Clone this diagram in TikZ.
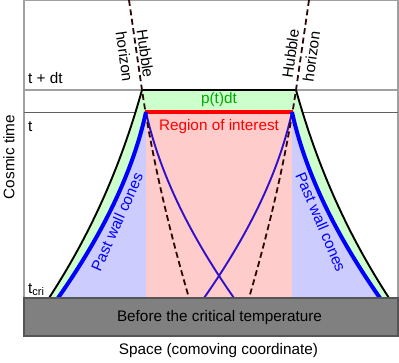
\documentclass[tikz,border=0pt]{standalone}
\usepackage{fontspec}
\setmainfont{Liberation Sans}
\definecolor{greenfill}{HTML}{CCFFCC}
\definecolor{lavfill}{HTML}{CCCCFF}
\definecolor{pinkfill}{HTML}{FFCCCC}
\definecolor{ptgreen}{HTML}{00AA00}
\definecolor{purpleline}{HTML}{3010C8}
\definecolor{dashcol}{HTML}{2A0808}
\definecolor{lightgrid}{HTML}{A0A0A0}
\definecolor{darkgrid}{HTML}{606060}
\definecolor{boxgray}{HTML}{808080}
\definecolor{boxedge}{HTML}{555555}
\begin{document}
\begin{tikzpicture}[x=1pt,y=-1pt,
  lbl/.style={font=\fontsize{15.3}{21}\selectfont, inner sep=0pt},
  outline/.style={line width=1.9pt, black, line join=round},
  wallcone/.style={line width=4pt, blue},
  thincone/.style={line width=1.9pt, purpleline},
  horizon/.style={line width=1.8pt, dashcol, dash pattern=on 6pt off 3.5pt}]
\useasboundingbox (0,0) rectangle (399,362);

% frame and time lines
\draw[lightgrid, line width=1.2pt] (24,0) -- (398,0) -- (398,336);
\draw[lightgrid, line width=1.2pt] (24,0) -- (24,336);
\draw[lightgrid, line width=1.2pt] (24,90) -- (398,90);
\draw[darkgrid, line width=1pt] (24,112) -- (398,112);

% fills
\fill[greenfill] (142,90) .. controls (122.4,160) and (94.5,228) .. (49,298)
  -- (389,298) .. controls (343.5,228) and (315.6,160) .. (296,90) -- cycle;
\fill[lavfill] (146,112) .. controls (132.4,174) and (101.4,236) .. (58,298)
  -- (146,298) -- cycle;
\fill[lavfill] (292,112) .. controls (305.6,174) and (336.6,236) .. (380,298)
  -- (292,298) -- cycle;
\fill[pinkfill] (146,112) rectangle (292,298);

% red bar
\draw[red, line width=4.2pt] (145,112) -- (293,112);

% outer outline
\draw[outline] (49,298) .. controls (94.5,228) and (122.4,160) .. (142,90)
  -- (296,90) .. controls (315.6,160) and (343.5,228) .. (389,298);

% thin cones
\draw[thincone] (146,112) .. controls (159.6,174) and (190.6,236) .. (234,298);
\draw[thincone] (292,112) .. controls (278.4,174) and (247.4,236) .. (204,298);

% Hubble horizons
\draw[horizon] (129,0) -- (142,90) .. controls (152.5,160) and (168.7,228) .. (189,298);
\draw[horizon] (309,0) -- (296,90) .. controls (285.5,160) and (269.3,228) .. (249,298);

% wall cones
\draw[wallcone] (146,112) .. controls (132.4,174) and (101.4,236) .. (58,298);
\draw[wallcone] (292,112) .. controls (305.6,174) and (336.6,236) .. (380,298);

% before critical temperature
\draw[boxedge, fill=boxgray, line width=1.2pt] (24,298) rectangle (398,336);

% labels
\node[lbl, anchor=base west] (tdt) at (28,83) {t + dt};
\node[lbl, anchor=base west] (tt) at (28,131) {t};
\node[lbl, anchor=base west] (tcri) at (28,293) {t\raisebox{-0.35ex}{\fontsize{11}{13}\selectfont cri}};
\node[lbl, rotate=90] (ctime) at (9,157) {Cosmic time};
\node[lbl] (space) at (218.5,351) {Space (comoving coordinate)};
\node[lbl] (before) at (219.5,318) {Before the critical temperature};
\node[lbl, text=ptgreen] (ptdt) at (219,100) {p(t)dt};
\node[lbl, text=red] (roi) at (219,127) {Region of interest};
\node[lbl, rotate=-82, align=center] (hleft) at (135,55) {Hubble\\horizon};
\node[lbl, rotate=82, align=center] (hright) at (301,55) {Hubble\\horizon};
\node[lbl, text=blue, rotate=66] (pleft) at (117,222) {Past wall cones};
\node[lbl, text=blue, rotate=-67] (pright) at (321,222) {Past wall cones};
\end{tikzpicture}
\end{document}
